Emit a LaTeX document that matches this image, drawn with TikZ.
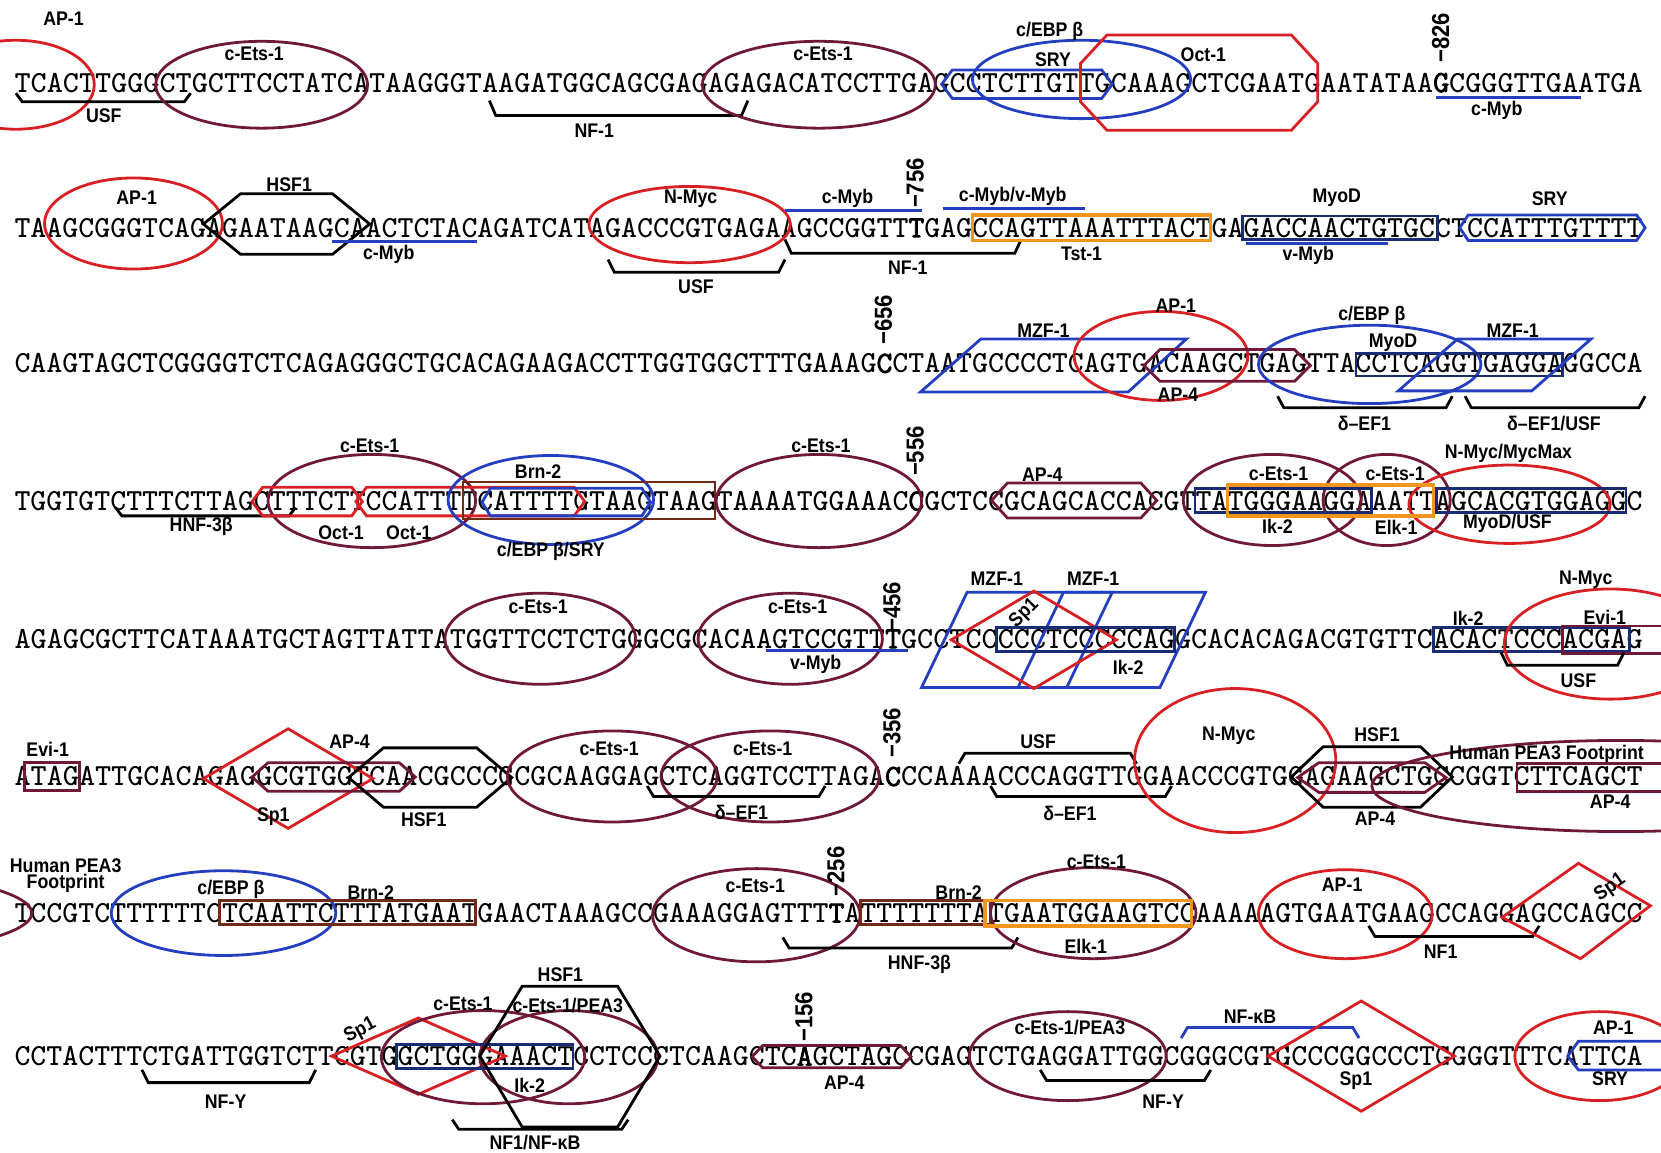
\documentclass[tikz,border=0pt]{standalone}
\usepackage{fontspec}
\usepackage{graphicx}
\newfontfamily\lblfont{Liberation Sans}[FakeStretch=0.9]
\newfontfamily\seqbold{lmmono10-regular.otf}[FakeBold=2.5]
\newcommand{\bch}[1]{{\seqbold #1}}
\definecolor{etsmaroon}{RGB}{112,24,56}
\definecolor{sitered}{RGB}{216,32,36}
\definecolor{siteblue}{RGB}{36,62,192}
\definecolor{sitenavy}{RGB}{24,44,118}
\definecolor{siteorange}{RGB}{240,150,30}
\definecolor{sitebrown}{RGB}{112,42,22}
% elongated hexagon: [style]{x1}{x2}{ytop}{ybot}{tip}
\newcommand{\hexsite}[6][]{%
  \draw[#1] (#2,{(#4+#5)/2}) -- ({#2+#6},#4) -- ({#3-#6},#4)
    -- (#3,{(#4+#5)/2}) -- ({#3-#6},#5) -- ({#2+#6},#5) -- cycle;}
% octagon: [style]{x1}{x2}{ytop}{ybot}{cut x}{cut y}
\newcommand{\octsite}[7][]{%
  \draw[#1] ({#2+#6},#4) -- ({#3-#6},#4) -- (#3,{#4+#7}) -- (#3,{#5-#7})
    -- ({#3-#6},#5) -- ({#2+#6},#5) -- (#2,{#5-#7}) -- (#2,{#4+#7}) -- cycle;}
% bracket: [style]{x1}{x2}{y ends}{y line}
\newcommand{\bracketsite}[5][]{%
  \draw[#1] ({#2-3},#4) -- ({#2+3},#5) -- ({#3-3},#5) -- ({#3+3},#4);}
% diamond: [style]{cx}{cy}{half width}{half height}
\newcommand{\diamondsite}[5][]{%
  \draw[#1] ({#2-#4},#3) -- (#2,{#3-#5}) -- ({#2+#4},#3) -- (#2,{#3+#5}) -- cycle;}

\begin{document}
\begin{tikzpicture}[x=0.1mm, y=-0.1mm,
  seq/.style={anchor=west, inner sep=0pt, font=\ttfamily\fontsize{8.25}{9}\selectfont},
  lbl/.style={inner sep=0pt, font=\lblfont\bfseries\fontsize{5.3}{6}\selectfont},
  posnum/.style={inner sep=0pt, anchor=west, rotate=90,
    font=\lblfont\bfseries\fontsize{6.6}{7}\selectfont},
  ets/.style={draw=etsmaroon, line width=0.75pt},
  redsite/.style={draw=sitered, line width=0.75pt},
  bluesite/.style={draw=siteblue, line width=0.75pt},
  navysite/.style={draw=sitenavy, line width=0.75pt},
  orangesite/.style={draw=siteorange, line width=0.9pt},
  brownsite/.style={draw=sitebrown, line width=0.75pt},
  blksite/.style={draw=black, line width=0.75pt},
]
  \useasboundingbox (0,0) rectangle (1568,1088);
  \clip (0,0) rectangle (1568,1088);

  % Sequence rows
  \node[seq] (row1) at (13,78) {\resizebox{153.7mm}{\height}{TCACTTGGGCTGCTTCCTATCATAAGGGTAAGATGGCAGCGAGAGAGACATCCTTGAGCCTCTTGTTGCAAAGCTCGAATGAATATAA\bch{G}CGGGTTGAATGA}};
  \node[seq] (row2) at (13,215) {\resizebox{153.7mm}{\height}{TAAGCGGGTCAGAGAATAAGCAACTCTACAGATCATAGACCCGTGAGAAGCCGGTT\bch{T}GAGCCAGTTAAATTTACTGAGACCAACTGTGCCTCCATTTGTTTT}};
  \node[seq] (row3) at (13,343) {\resizebox{153.7mm}{\height}{CAAGTAGCTCGGGGTCTCAGAGGGCTGCACAGAAGACCTTGGTGGCTTTGAAAG\bch{C}CTAATGCCCCTCAGTGACAAGCTGAGTTACCTCAGGTGAGGAGGCCA}};
  \node[seq] (row4) at (13,473) {\resizebox{153.7mm}{\height}{TGGTGTCTTTCTTAGCTTTCTTCCATTTTCATTTTGTAAGTAAGTAAAATGGAAAC\bch{C}GCTCCGCAGCACCACGTTATGGGAAGGAAATTAGCACGTGGAGGC}};
  \node[seq] (row5) at (13,603) {\resizebox{153.7mm}{\height}{AGAGCGCTTCATAAATGCTAGTTATTATGGTTCCTCTGGGCGCACAAGTCCGTT\bch{T}GCCTCCCCCTCCCCCAGGCACACAGACGTGTTCACACTCCCACGAG}};
  \node[seq] (row6) at (13,733) {\resizebox{153.7mm}{\height}{ATAGATTGCACAGAGGCGTGGTCAACGCCCGCGCAAGGAGCTCAGGTCCTTAGA\bch{C}CCAAAACCCAGGTTGGAACCCGTGGAGAAGCTGCCGGTCTTCAGCT}};
  \node[seq] (row7) at (13,862) {\resizebox{153.7mm}{\height}{TCCGTCTTTTTTCTCAATTCTTTATGAATGAACTAAAGCCGAAAGGAGTTT\bch{T}ATTTTTTTATGAATGGAAGTCCAAAAAGTGAATGAAGCCAGGAGCCAGCC}};
  \node[seq] (row8) at (13,997) {\resizebox{153.7mm}{\height}{CCTACTTTCTGATTGGTCTTCGTGGCTGGGAAACTCCTCCCTCAAGCTC\bch{A}GCTAGCCGAGTCTGAGGATTGGCGGGCGTGCCCGGCCCTGGGGTTTCATTCA}};

  % Row 1
  \draw[redsite] (15,80) ellipse [x radius=74, y radius=42];
  \node[lbl] (r1ap1) at (60,18) {AP-1};
  \bracketsite[blksite]{18}{177}{88}{96}
  \node[lbl] (r1usf) at (98,109) {USF};
  \draw[ets] (247,80) ellipse [x radius=100, y radius=41];
  \node[lbl] (r1ets) at (240,51) {c-Ets-1};
  \bracketsite[blksite]{465}{703}{95}{109}
  \node[lbl] (r1nf) at (561,123) {NF-1};
  \draw[ets] (773,80) ellipse [x radius=110, y radius=41];
  \node[lbl] (r1etsb) at (777,51) {c-Ets-1};
  \hexsite[bluesite]{889}{1050}{66}{93}{10}
  \node[lbl] (r1sry) at (994,56) {SRY};
  \draw[bluesite] (1021,75) ellipse [x radius=103, y radius=37];
  \node[lbl] (r1cebp) at (991,30) {c/EBP β};
  \octsite[redsite]{1020}{1244}{33}{123}{25}{27}
  \node[lbl] (r1oct) at (1136,52) {Oct-1};
  \node[posnum] (r1num) at (1360,60) {−826};
  \draw[bluesite] (1356,92) -- (1492,92);
  \node[lbl] (r1myb) at (1413,104) {c-Myb};

  % Row 2
  \draw[redsite] (126,211) ellipse [x radius=84, y radius=43];
  \node[lbl] (r2ap1) at (129,187) {AP-1};
  \hexsite[blksite]{192}{349}{183}{240}{35}
  \node[lbl] (r2hsf) at (273,174) {HSF1};
  \draw[bluesite] (313,228) -- (450,228);
  \node[lbl] (r2myb) at (367,240) {c-Myb};
  \draw[redsite] (651,212) ellipse [x radius=95, y radius=36];
  \node[lbl] (r2nmyc) at (652,188) {N-Myc};
  \bracketsite[blksite]{577}{738}{245}{257}
  \node[lbl] (r2usf) at (657,271) {USF};
  \draw[bluesite] (741,199) -- (870,199);
  \node[lbl] (r2mybb) at (800,187) {c-Myb};
  \bracketsite[blksite]{744}{961}{226}{239}
  \node[lbl] (r2nf) at (857,253) {NF-1};
  \node[posnum] (r2num) at (864,197) {−756};
  \draw[bluesite] (890,197) -- (1024,197);
  \node[lbl] (r2mybv) at (956,185) {c-Myb/v-Myb};
  \draw[orangesite] (918,203) rectangle (1143,227);
  \node[lbl] (r2tst) at (1021,240) {Tst-1};
  \draw[navysite] (1173,204) rectangle (1357,226);
  \node[lbl] (r2myod) at (1262,187) {MyoD};
  \draw[bluesite] (1176,230) -- (1310,230);
  \node[lbl] (r2vmyb) at (1235,241) {v-Myb};
  \hexsite[bluesite]{1378}{1553}{203}{227}{8}
  \node[lbl] (r2sry) at (1463,188) {SRY};

  % Row 3
  \node[posnum] (r3num) at (834,326) {−656};
  \draw[bluesite] (869,370) -- (926,320) -- (1120,320) -- (1065,370) -- cycle;
  \node[lbl] (r3mzf) at (985,312) {MZF-1};
  \draw[redsite] (1096,336) ellipse [x radius=82, y radius=42];
  \node[lbl] (r3ap1) at (1110,289) {AP-1};
  \hexsite[ets]{1080}{1237}{330}{360}{15}
  \node[lbl] (r3ap4) at (1112,373) {AP-4};
  \draw[bluesite] (1293,344) ellipse [x radius=105, y radius=37];
  \node[lbl] (r3cebp) at (1295,298) {c/EBP β};
  \draw[navysite] (1280,334) rectangle (1475,355);
  \node[lbl] (r3myod) at (1315,324) {MyoD};
  \draw[bluesite] (1320,369) -- (1376,320) -- (1502,320) -- (1446,369) -- cycle;
  \node[lbl] (r3mzfb) at (1428,312) {MZF-1};
  \bracketsite[blksite]{1209}{1368}{374}{385}
  \node[lbl] (r3def) at (1288,400) {δ–EF1};
  \bracketsite[blksite]{1386}{1550}{374}{385}
  \node[lbl] (r3defusf) at (1467,400) {δ–EF1/USF};

  % Row 4
  \bracketsite[blksite]{112}{276}{479}{487}
  \node[lbl] (r4hnf) at (190,497) {HNF-3β};
  \draw[ets] (351,473) ellipse [x radius=98, y radius=44];
  \node[lbl] (r4ets) at (349,421) {c-Ets-1};
  \hexsite[redsite]{238}{342}{460}{487}{10}
  \hexsite[redsite]{336}{552}{460}{487}{10}
  \node[lbl] (r4oct) at (322,503) {Oct-1};
  \node[lbl] (r4octb) at (386,503) {Oct-1};
  \draw[bluesite] (520,472) ellipse [x radius=97, y radius=42];
  \node[lbl] (r4cebp) at (520,521) {c/EBP β/SRY};
  \hexsite[bluesite]{455}{614}{461}{487}{8}
  \draw[brownsite] (437,455) rectangle (675,490);
  \node[lbl] (r4brn) at (508,445) {Brn-2};
  \draw[ets] (773,473) ellipse [x radius=97, y radius=44];
  \node[lbl] (r4etsb) at (775,421) {c-Ets-1};
  \node[posnum] (r4num) at (864,450) {−556};
  \hexsite[ets]{936}{1092}{456}{489}{15}
  \node[lbl] (r4ap4) at (984,448) {AP-4};
  \draw[ets] (1201,472) ellipse [x radius=84, y radius=43];
  \node[lbl] (r4etsc) at (1207,447) {c-Ets-1};
  \draw[ets] (1309,472) ellipse [x radius=60, y radius=43];
  \node[lbl] (r4etsd) at (1317,447) {c-Ets-1};
  \draw[redsite] (1425,476) ellipse [x radius=95, y radius=37];
  \node[lbl] (r4nmyc) at (1424,428) {N-Myc/MycMax};
  \draw[navysite] (1128,461) rectangle (1295,484);
  \node[lbl] (r4ik) at (1206,497) {Ik-2};
  \draw[orangesite] (1159,458) rectangle (1353,487);
  \node[lbl] (r4elk) at (1318,498) {Elk-1};
  \draw[navysite] (1356,461) rectangle (1535,484);
  \node[lbl] (r4myod) at (1423,494) {MyoD/USF};

  % Row 5
  \draw[ets] (510,603) ellipse [x radius=90, y radius=43];
  \node[lbl] (r5ets) at (508,573) {c-Ets-1};
  \draw[ets] (746,603) ellipse [x radius=87, y radius=43];
  \node[lbl] (r5etsb) at (753,573) {c-Ets-1};
  \draw[bluesite] (723,614) -- (857,614);
  \node[lbl] (r5vmyb) at (770,627) {v-Myb};
  \node[posnum] (r5num) at (842,597) {−456};
  \draw[bluesite] (870,649) -- (913,559) -- (1050,559) -- (1007,649) -- cycle;
  \draw[bluesite] (961,649) -- (1004,559) -- (1138,559) -- (1095,649) -- cycle;
  \node[lbl] (r5mzf) at (941,546) {MZF-1};
  \node[lbl] (r5mzfb) at (1032,546) {MZF-1};
  \diamondsite[redsite]{976}{604}{78}{46}
  \node[lbl, rotate=45] (r5sp) at (967,579) {Sp1};
  \draw[navysite] (941,592) rectangle (1109,615);
  \node[lbl] (r5ik) at (1065,630) {Ik-2};
  \draw[navysite] (1353,592) rectangle (1538,615);
  \node[lbl] (r5ikb) at (1386,584) {Ik-2};
  \draw[redsite] (1520,608) ellipse [x radius=100, y radius=52];
  \node[lbl] (r5nmyc) at (1497,547) {N-Myc};
  \draw[ets] (1475,591) rectangle (1580,617);
  \node[lbl] (r5evi) at (1515,583) {Evi-1};
  \bracketsite[blksite]{1420}{1530}{616}{628}
  \node[lbl] (r5usf) at (1490,643) {USF};

  % Row 6
  \draw[ets] (23,720) rectangle (75,746);
  \node[lbl] (r6evi) at (45,707) {Evi-1};
  \diamondsite[redsite]{272}{735}{80}{47}
  \node[lbl] (r6sp) at (258,771) {Sp1};
  \hexsite[ets]{238}{392}{720}{747}{15}
  \node[lbl] (r6ap4) at (330,700) {AP-4};
  \hexsite[blksite]{329}{483}{706}{762}{33}
  \node[lbl] (r6hsf) at (400,774) {HSF1};
  \draw[ets] (578,733) ellipse [x radius=99, y radius=43];
  \node[lbl] (r6ets) at (575,707) {c-Ets-1};
  \draw[ets] (727,733) ellipse [x radius=103, y radius=43];
  \node[lbl] (r6etsb) at (720,707) {c-Ets-1};
  \bracketsite[blksite]{614}{776}{742}{752}
  \node[lbl] (r6def) at (700,767) {δ–EF1};
  \node[posnum] (r6num) at (842,716) {−356};
  \bracketsite[blksite]{908}{1070}{721}{711}
  \node[lbl] (r6usf) at (980,700) {USF};
  \bracketsite[blksite]{938}{1103}{742}{752}
  \node[lbl] (r6defb) at (1010,768) {δ–EF1};
  \draw[redsite] (1166,718) ellipse [x radius=95, y radius=68];
  \node[lbl] (r6nmyc) at (1160,695) {N-Myc};
  \hexsite[blksite]{1219}{1371}{705}{762}{30}
  \node[lbl] (r6hsfb) at (1300,694) {HSF1};
  \hexsite[ets]{1225}{1365}{720}{748}{20}
  \node[lbl] (r6ap4b) at (1298,773) {AP-4};
  \draw[ets] (1530,742) ellipse [x radius=235, y radius=43];
  \node[lbl] (r6pea) at (1460,712) {Human PEA3 Footprint};
  \draw[ets] (1432,721) rectangle (1580,747);
  \node[lbl] (r6ap4c) at (1520,757) {AP-4};

  % Row 7
  \draw[ets] (-190,862) ellipse [x radius=220, y radius=42];
  \node[lbl] (r7pea) at (62,817) {Human PEA3};
  \node[lbl] (r7peab) at (62,834) {Footprint};
  \draw[bluesite] (211,862) ellipse [x radius=106, y radius=40];
  \node[lbl] (r7cebp) at (218,840) {c/EBP β};
  \draw[brownsite] (207,850) rectangle (449,873);
  \node[lbl] (r7brn) at (350,843) {Brn-2};
  \draw[ets] (714,864) ellipse [x radius=98, y radius=44];
  \node[lbl] (r7ets) at (713,836) {c-Ets-1};
  \node[posnum] (r7num) at (789,847) {−256};
  \draw[brownsite] (812,850) rectangle (935,873);
  \node[lbl] (r7brnb) at (905,843) {Brn-2};
  \bracketsite[blksite]{742}{958}{885}{895}
  \node[lbl] (r7hnf) at (868,910) {HNF-3β};
  \draw[ets] (1032,862) ellipse [x radius=97, y radius=43];
  \node[lbl] (r7etsb) at (1035,814) {c-Ets-1};
  \draw[orangesite] (930,850) rectangle (1125,874);
  \node[lbl] (r7elk) at (1025,893) {Elk-1};
  \draw[redsite] (1270,863) ellipse [x radius=82, y radius=42];
  \node[lbl] (r7ap1) at (1267,835) {AP-1};
  \bracketsite[blksite]{1295}{1450}{874}{884}
  \node[lbl] (r7nf) at (1360,898) {NF1};
  \draw[redsite] (1418,866) -- (1490,815) -- (1558,855) -- (1492,905) -- cycle;
  \node[lbl, rotate=35] (r7sp) at (1520,838) {Sp1};

  % Row 8
  \bracketsite[blksite]{137}{295}{1010}{1022}
  \node[lbl] (r8nfy) at (213,1040) {NF-Y};
  \diamondsite[redsite]{395}{997}{82}{36}
  \node[lbl, rotate=28] (r8sp) at (340,973) {Sp1};
  \draw[ets] (456,998) ellipse [x radius=96, y radius=44];
  \node[lbl] (r8ets) at (437,948) {c-Ets-1};
  \draw[ets] (537,998) ellipse [x radius=84, y radius=44];
  \node[lbl] (r8pea) at (536,949) {c-Ets-1/PEA3};
  \draw[navysite] (374,986) rectangle (541,1009);
  \node[lbl] (r8ik) at (500,1025) {Ik-2};
  \draw[blksite] (493,931) -- (583,931) -- (623,997) -- (583,1064) -- (493,1064)
    -- (453,997) -- cycle;
  \node[lbl] (r8hsf) at (529,920) {HSF1};
  \bracketsite[blksite]{430}{590}{1057}{1066}
  \node[lbl] (r8nfk) at (505,1079) {NF1/NF-κB};
  \node[posnum] (r8num) at (759,984) {−156};
  \hexsite[ets]{710}{860}{987}{1008}{10}
  \node[lbl] (r8ap4) at (797,1022) {AP-4};
  \draw[ets] (1008,997) ellipse [x radius=93, y radius=42];
  \node[lbl] (r8peab) at (1010,970) {c-Ets-1/PEA3};
  \bracketsite[blksite]{985}{1140}{1010}{1020}
  \node[lbl] (r8nfyb) at (1098,1040) {NF-Y};
  \bracketsite[bluesite]{1118}{1280}{980}{970}
  \node[lbl] (r8nfkb) at (1180,960) {NF-κB};
  \diamondsite[redsite]{1285}{997}{88}{52}
  \node[lbl] (r8spb) at (1280,1020) {Sp1};
  \draw[redsite] (1510,997) ellipse [x radius=80, y radius=42];
  \node[lbl] (r8ap1) at (1523,970) {AP-1};
  \draw[bluesite] (1580,983) -- (1490,983) -- (1480,997) -- (1490,1010) -- (1580,1010);
  \node[lbl] (r8sry) at (1520,1018) {SRY};
\end{tikzpicture}
\end{document}
